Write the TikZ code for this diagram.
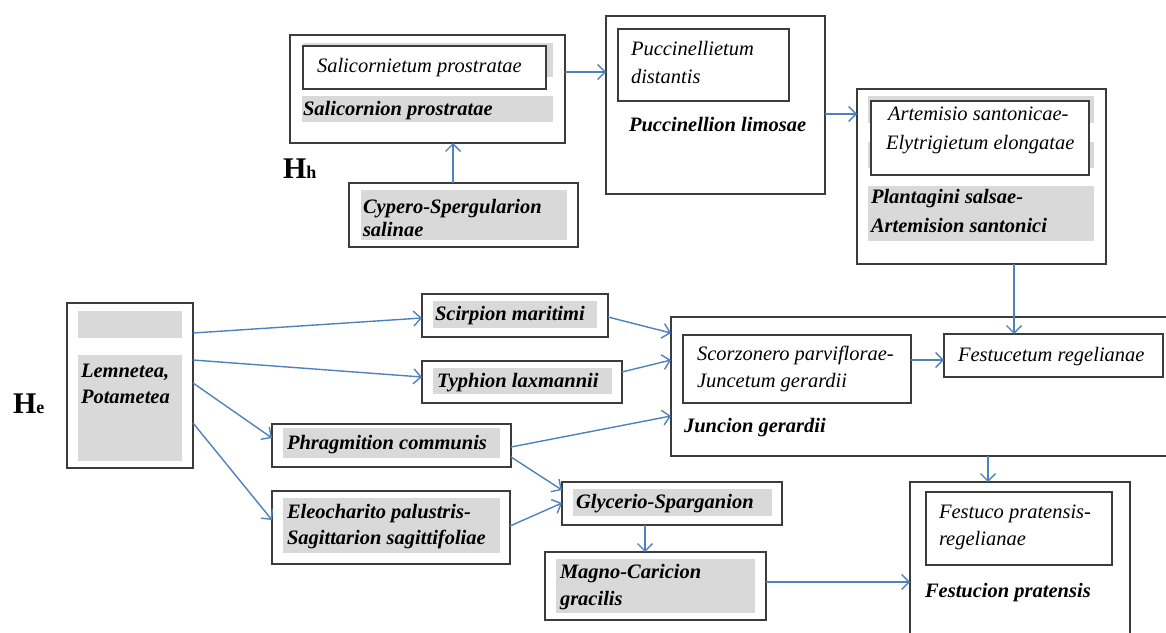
\documentclass[tikz,border=0pt]{standalone}
\usepackage{fontspec}
\setmainfont{Liberation Serif}
\usetikzlibrary{arrows.meta}
\definecolor{arrc}{RGB}{79,129,189}
\definecolor{boxc}{RGB}{60,60,60}
\definecolor{greyc}{RGB}{217,217,217}
\newcommand\assocf{\fontsize{20.5}{24}\selectfont\itshape}
\newcommand\allif{\fontsize{20.5}{24}\selectfont\bfseries\itshape}
\newcommand\rbox[6]{\node[#1, anchor=north west, minimum width={(#5)-(#3)}, minimum height={(#6)-(#4)}] (#2) at (#3,#4) {};}
\tikzset{
  frame/.style={draw=boxc, line width=1.4pt, inner sep=0pt, outer sep=0pt, fill=white},
  shade/.style={fill=greyc, draw=none, inner sep=0pt, outer sep=0pt},
  assoc/.style={inner sep=0pt, outer sep=0pt, anchor=base west, font=\assocf},
  alli/.style={inner sep=0pt, outer sep=0pt, anchor=base west, font=\allif},
  hlabel/.style={inner sep=0pt, outer sep=0pt, anchor=base west},
  link/.style={draw=arrc, line width=1.4pt, -{Straight Barb[length=7.5pt,width=15pt]}},
}
\begin{document}
\begin{tikzpicture}[x=1pt,y=-1pt]
\useasboundingbox (0,0) rectangle (1166,632);
\clip (0,0) rectangle (1166,632);
% Salicornion
\rbox{frame}{salO}{290}{35}{565}{143}
\rbox{shade}{salG1}{303}{43}{553}{77}
\rbox{frame}{salI}{303}{46}{546}{89}
\rbox{shade}{salG2}{302}{96}{553}{122}
\node[assoc] (salT1) at (317,72) {Salicornietum prostratae};
\node[alli] (salT2) at (303,115) {Salicornion prostratae};
% Cypero
\rbox{frame}{cyp}{349}{183}{578}{247}
\rbox{shade}{cypG}{361}{190}{567}{240}
\node[alli] (cypT1) at (363,213) {Cypero-Spergularion};
\node[alli] (cypT2) at (363,236) {salinae};
% Puccinellion
\rbox{frame}{pucO}{606}{16}{825}{194}
\rbox{frame}{pucI}{618}{29}{789}{101}
\node[assoc] (pucT1) at (631,55) {Puccinellietum};
\node[assoc] (pucT2) at (631,83) {distantis};
\node[alli] (pucT3) at (629,131) {Puccinellion limosae};
% Plantagini
\rbox{frame}{plaO}{857}{89}{1106}{264}
\rbox{shade}{plaG1}{868}{96}{1094}{123}
\rbox{shade}{plaG2}{868}{142}{1094}{168}
\rbox{frame}{plaI}{871}{101}{1089}{175}
\node[assoc] (plaT1) at (888,120) {Artemisio santonicae-};
\node[assoc] (plaT2) at (886,149) {Elytrigietum elongatae};
\rbox{shade}{plaG3}{868}{186}{1094}{241}
\node[alli] (plaT3) at (871,203) {Plantagini salsae-};
\node[alli] (plaT4) at (871,232) {Artemision santonici};
% Lemnetea
\rbox{frame}{lem}{67}{303}{193}{468}
\rbox{shade}{lemG1}{78}{311}{182}{338}
\rbox{shade}{lemG2}{78}{355}{182}{461}
\node[alli] (lemT1) at (81,377) {Lemnetea,};
\node[alli] (lemT2) at (81,403) {Potametea};
% Scirpion
\rbox{frame}{scir}{422}{294}{608}{337}
\rbox{shade}{scirG}{433}{301}{597}{328}
\node[alli] (scirT) at (435,320) {Scirpion maritimi};
% Typhion
\rbox{frame}{typ}{422}{361}{622}{403}
\rbox{shade}{typG}{433}{368}{612}{394}
\node[alli] (typT) at (437,387) {Typhion laxmannii};
% Phragmition
\rbox{frame}{phr}{272}{424}{511}{467}
\rbox{shade}{phrG}{283}{428}{500}{458}
\node[alli] (phrT) at (287,449) {Phragmition communis};
% Eleocharito
\rbox{frame}{ele}{272}{491}{510}{564}
\rbox{shade}{eleG}{283}{498}{500}{553}
\node[alli] (eleT1) at (287,518) {Eleocharito palustris-};
\node[alli] (eleT2) at (287,544) {Sagittarion sagittifoliae};
% Juncion
\rbox{frame}{jun}{671}{317}{1185}{456}
\rbox{frame}{junI}{683}{335}{911}{403}
\node[assoc] (junT1) at (697,360) {Scorzonero parviflorae-};
\node[assoc] (junT2) at (697,387) {Juncetum gerardii};
\node[alli] (junT3) at (684,432) {Juncion gerardii};
% Festucetum
\rbox{frame}{fet}{944}{334}{1163}{377}
\node[assoc] (fetT) at (958,361) {Festucetum regelianae};
% Glycerio
\rbox{frame}{gly}{562}{482}{782}{525}
\rbox{shade}{glyG}{573}{489}{772}{516}
\node[alli] (glyT) at (576,508) {Glycerio-Sparganion};
% Magno
\rbox{frame}{mag}{545}{552}{766}{620}
\rbox{shade}{magG}{556}{559}{755}{613}
\node[alli] (magT1) at (560,578) {Magno-Caricion};
\node[alli] (magT2) at (560,605) {gracilis};
% Festucion
\rbox{frame}{fes}{910}{482}{1130}{660}
\rbox{frame}{fesI}{926}{492}{1112}{565}
\node[assoc] (fesT1) at (939,518) {Festuco pratensis-};
\node[assoc] (fesT2) at (939,545) {regelianae};
\node[alli] (fesT3) at (925,597) {Festucion pratensis};
% H labels
\node[hlabel] (Hh) at (283,178) {\fontsize{30}{30}\selectfont\bfseries H\fontsize{18}{18}\selectfont h};
\node[hlabel] (He) at (13,413) {\fontsize{30}{30}\selectfont\bfseries H\fontsize{18}{18}\selectfont e};
% connectors
\draw[link] (453,0 |- cyp.north) -- (453,0 |- salO.south);
\draw[link] (salO.east |- 0,72) -- (pucO.west |- 0,72);
\draw[link] (pucO.east |- 0,114) -- (plaO.west |- 0,114);
\draw[link] (1014,0 |- plaO.south) -- (1014,0 |- fet.north);
\draw[link] (junI.east |- 0,360) -- (fet.west |- 0,360);
\draw[link] (988,0 |- jun.south) -- (988,0 |- fes.north);
\draw[link] (lem.east |- 0,333) -- (scir.west |- 0,318);
\draw[link] (lem.east |- 0,360) -- (typ.west |- 0,377);
\draw[link] (lem.east |- 0,383) -- (phr.west |- 0,438);
\draw[link] (lem.east |- 0,423) -- (ele.west |- 0,520);
\draw[link] (scir.east |- 0,317) -- (jun.west |- 0,333);
\draw[link] (typ.east |- 0,372) -- (jun.west |- 0,360);
\draw[link] (phr.east |- 0,447) -- (jun.west |- 0,416);
\draw[link] (phr.east |- 0,457) -- (gly.west |- 0,490);
\draw[link] (ele.east |- 0,526) -- (gly.west |- 0,503);
\draw[link] (645,0 |- gly.south) -- (645,0 |- mag.north);
\draw[link] (mag.east |- 0,582) -- (fes.west |- 0,582);
\end{tikzpicture}
\end{document}
